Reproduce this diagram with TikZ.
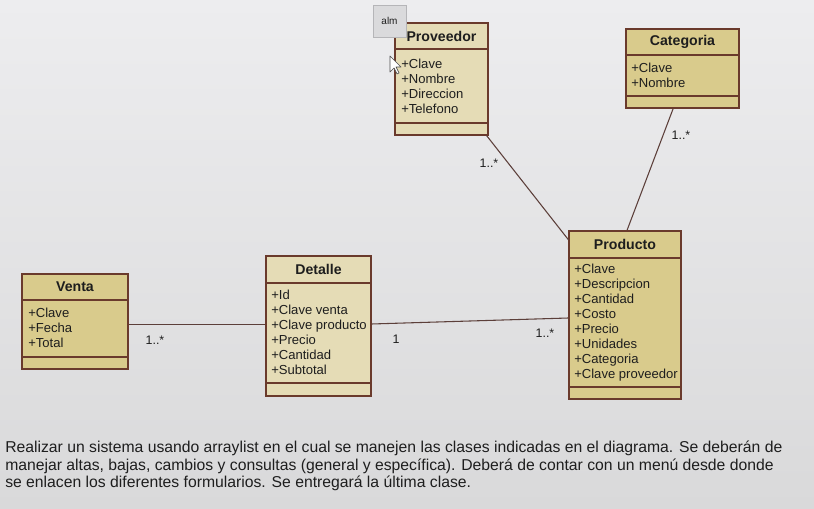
\documentclass[tikz,border=0pt]{standalone}
\usepackage{fontspec}
\setmainfont{Liberation Sans}
\usetikzlibrary{fit,calc}
\definecolor{bgtop}{HTML}{EDEDEF}
\definecolor{bgbot}{HTML}{D9D9DA}
\definecolor{clsdark}{HTML}{D9CB8C}
\definecolor{clslight}{HTML}{E5DCB6}
\definecolor{clsline}{HTML}{6A3A2C}
\definecolor{conn}{HTML}{5C3F3A}
\definecolor{tipfill}{HTML}{DADADC}
\definecolor{tipline}{HTML}{B5B5B8}
\definecolor{txt}{HTML}{1E1E1E}
\tikzset{
  classbox/.style={draw=clsline, line width=0.9pt, inner sep=0pt},
  cline/.style={draw=clsline, line width=0.9pt},
  ctitle/.style={font=\fontsize{10.6}{12}\selectfont\bfseries, text=txt, inner sep=0pt},
  attr/.style={font=\fontsize{9.8}{11}\selectfont, text=txt, inner sep=0pt, anchor=base west},
  conline/.style={draw=conn, line width=0.8pt},
  mult/.style={font=\fontsize{9.3}{10}\selectfont, text=txt, inner sep=0pt},
  para/.style={font=\fontsize{11.8}{13}\selectfont, text=txt, inner sep=0pt, anchor=base west},
}
% #1 name, #2 x1, #3 y1, #4 x2, #5 title bottom, #6 attr bottom, #7 y bottom, #8 fill, #9 title
\newcommand\umlclassbox[9]{%
  \node[classbox, fill=#8, fit={(#2,#3)(#4,#7)}] (#1) {};
  \draw[cline] (#2,#5) -- (#4,#5);
  \draw[cline] (#2,#6) -- (#4,#6);
  \node[ctitle] (#1-title) at ({(#2+#4)/2},{(#3+#5)/2}) {#9};
}
% #1 prefix, #2 x, #3 first baseline y, #4 list
\newcommand\umlattrlist[4]{%
  \foreach \t [count=\i] in {#4} {
    \node[attr] (#1-a\i) at (#2,{#3+15*(\i-1)}) {\t};
  }
}
\begin{document}
\begin{tikzpicture}[x=0.75pt,y=-0.75pt]
\useasboundingbox (0,0) rectangle (814,509);
\shade[top color=bgtop, bottom color=bgbot] (0,0) rectangle (814,509);

% classes
\umlclassbox{prov}{395}{23}{488}{49}{123}{135}{clslight}{Proveedor}
\umlattrlist{prov}{401}{69}{+Clave,+Nombre,+Direccion,+Telefono}

\umlclassbox{cat}{626}{29}{739}{55}{96}{108}{clsdark}{Categoria}
\umlattrlist{cat}{631}{73}{+Clave,+Nombre}

\umlclassbox{venta}{22}{274}{128}{300}{357}{369}{clsdark}{Venta}
\umlattrlist{venta}{28}{318}{+Clave,+Fecha,+Total}

\umlclassbox{det}{266}{256}{371}{283}{383}{396}{clslight}{Detalle}
\umlattrlist{det}{271}{300}{+Id,+Clave venta,+Clave producto,+Precio,+Cantidad,+Subtotal}

\umlclassbox{prod}{569}{231}{681}{258}{387}{399}{clsdark}{Producto}
\umlattrlist{prod}{574}{274}{+Clave,+Descripcion,+Cantidad,+Costo,+Precio,+Unidades,+Categoria,+Clave proveedor}

% connectors
\draw[conline] ([yshift=-2pt]venta.east) -- ([yshift=-2pt]venta.east -| det.west);
\draw[conline] ([yshift=1.5pt]det.east) -- ([yshift=-2.25pt]prod.west);
\draw[conline] ([xshift=-1.5pt]prov.south east) -- ([yshift=-7pt]prod.north west);
\draw[conline] ([xshift=-7pt]cat.south) -- ([xshift=1.5pt]prod.north);

% multiplicities
\node[mult] (m1) at (155,340) {1..*};
\node[mult] (m2) at (396,339) {1};
\node[mult] (m3) at (545,333) {1..*};
\node[mult] (m4) at (489,163) {1..*};
\node[mult] (m5) at (681,135) {1..*};

% tooltip and cursor
\node[draw=tipline, fill=tipfill, line width=0.6pt, minimum width=24.75pt, minimum height=24pt, inner sep=0pt,
      font=\fontsize{7.5}{9}\selectfont, text=txt] (tip) at (389.5,21) {alm};
\draw[fill=white, draw=black!70, line width=0.5pt, line join=round]
  (390,56) -- ++(0,16) -- ++(4,-4) -- ++(3,6) -- ++(2,-1) -- ++(-3,-6) -- ++(5,0) -- cycle;

% text below
\node[para] (t1) at (5,452) {Realizar un sistema usando arraylist en el cual se manejen las clases indicadas en el diagrama. Se deberán de};
\node[para] (t2) at (5,470) {manejar altas, bajas, cambios y consultas (general y específica). Deberá de contar con un menú desde donde};
\node[para] (t3) at (5,488) {se enlacen los diferentes formularios. Se entregará la última clase.};
\end{tikzpicture}
\end{document}
